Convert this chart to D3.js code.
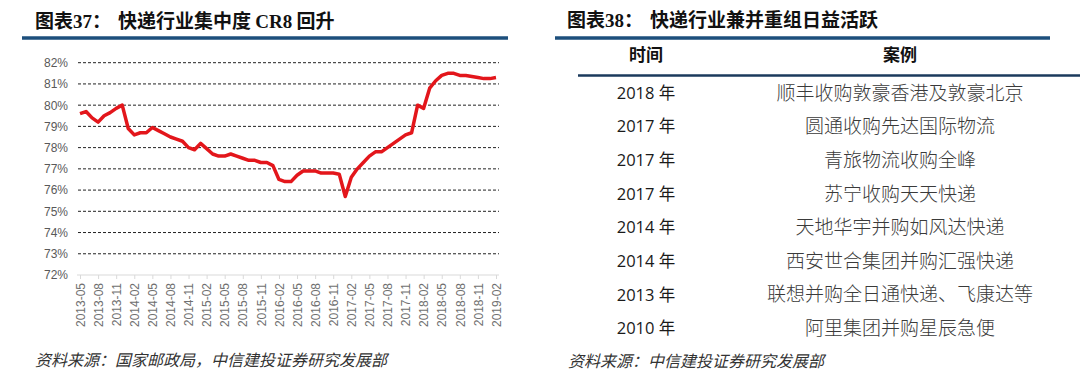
<!DOCTYPE html>
<html>
<head>
<meta charset="utf-8">
<script src="https://cdn.jsdelivr.net/npm/d3@7"></script>
<style>
  body { margin: 0; background: #fff; }
  svg { display: block; }
</style>
</head>
<body>
<svg id="chart" width="1080" height="378"></svg>
<script>
// CR8 monthly values, 2013-05 .. 2019-02
var months_start = '2013-05', months_end = '2019-02';
var cr8 = [79.6, 79.7, 79.4, 79.2, 79.5, 79.65, 79.85, 80.0, 78.9, 78.6,
           78.7, 78.7, 78.95, 78.8, 78.65, 78.5, 78.4, 78.3, 78.0, 77.9,
           78.2, 77.95, 77.7, 77.6, 77.6, 77.7, 77.6, 77.5, 77.4, 77.4,
           77.3, 77.3, 77.15, 76.5, 76.4, 76.4, 76.7, 76.9, 76.9, 76.9,
           76.8, 76.8, 76.8, 76.75, 75.7, 76.6, 77.0, 77.3, 77.6, 77.8,
           77.8, 78.0, 78.2, 78.4, 78.6, 78.7, 80.0, 79.85, 80.8, 81.15,
           81.4, 81.5, 81.5, 81.4, 81.4, 81.35, 81.3, 81.25, 81.25, 81.3];
var xTickLabels = ['2013-05','2013-08','2013-11','2014-02','2014-05','2014-08','2014-11','2015-02',
                   '2015-05','2015-08','2015-11','2016-02','2016-05','2016-08','2016-11','2017-02',
                   '2017-05','2017-08','2017-11','2018-02','2018-05','2018-08','2018-11','2019-02'];
var yTicks = [72, 73, 74, 75, 76, 77, 78, 79, 80, 81, 82];

// table
var tableHeader = ['时间', '案例'];
var years = ['2018 年', '2017 年', '2017 年', '2017 年', '2014 年', '2014 年', '2013 年', '2010 年'];
var cases = ['顺丰收购敦豪香港及敦豪北京', '圆通收购先达国际物流', '青旅物流收购全峰', '苏宁收购天天快递',
             '天地华宇并购如风达快递', '西安世合集团并购汇强快递', '联想并购全日通快递、飞康达等', '阿里集团并购星辰急便'];

var blue = '#1d4f7c';
var cjk = '"Noto Sans CJK SC", "Noto Sans", sans-serif';

var fmt = d3.timeFormat('%Y-%m'), parse = d3.timeParse('%Y-%m');
var months = d3.timeMonth.range(parse(months_start), d3.timeMonth.offset(parse(months_end), 1)).map(fmt);

var svg = d3.select('#chart');

// ---------- left panel ----------
var left = svg.append('g');

var t1 = left.append('text').attr('x', 35).attr('y', 28)
  .attr('font-family', cjk).attr('font-weight', 'bold').attr('font-size', '19px').attr('fill', '#111');
t1.append('tspan').text('图表');
t1.append('tspan').attr('font-family', '"Liberation Serif", serif').text('37');
t1.append('tspan').text('：');
t1.append('tspan').attr('x', 118).text('快递行业集中度 ');
t1.append('tspan').attr('font-family', '"Liberation Serif", serif').text('CR8');
t1.append('tspan').text(' 回升');

left.append('line').attr('x1', 22).attr('x2', 508).attr('y1', 38).attr('y2', 38)
  .attr('stroke', blue).attr('stroke-width', 3.5);

var x = d3.scalePoint().domain(months).range([77, 499]).padding(0.5);
var y = d3.scaleLinear().domain([72, 82]).range([275, 62.7]);

// gridlines
left.append('g').selectAll('line')
  .data(yTicks.filter(function(d) { return d > 72; }))
  .enter().append('line')
    .attr('x1', 78).attr('x2', 499)
    .attr('y1', function(d) { return y(d); })
    .attr('y2', function(d) { return y(d); })
    .attr('stroke', '#222').attr('stroke-width', 1)
    .attr('stroke-dasharray', '3,2');

// y axis labels
var yAxis = left.append('g').attr('transform', 'translate(72,0)')
  .call(d3.axisLeft(y).tickValues(yTicks).tickFormat(function(d) { return d + '%'; }).tickSize(0));
yAxis.select('.domain').remove();
yAxis.selectAll('text').attr('fill', '#595959').attr('font-size', '12px')
  .attr('font-family', '"Liberation Sans", Arial, sans-serif').attr('dx', '-1');

// x axis
var xAxis = left.append('g').attr('transform', 'translate(0,275)')
  .call(d3.axisBottom(x).tickValues(xTickLabels).tickSize(4));
xAxis.select('.domain').attr('stroke', '#d9d9d9').attr('d', 'M77,0H499');
xAxis.selectAll('.tick line').attr('stroke', '#d9d9d9');
xAxis.selectAll('text')
  .attr('fill', '#707070').attr('font-size', '12px')
  .attr('font-family', '"Liberation Sans", Arial, sans-serif')
  .attr('transform', 'rotate(-90)')
  .style('text-anchor', 'end')
  .attr('x', -8).attr('y', 0).attr('dy', '0.35em');

// line
var line = d3.line()
  .x(function(d, i) { return x(months[i]); })
  .y(function(d) { return y(d); });
left.append('path').datum(cr8)
  .attr('d', line)
  .attr('fill', 'none').attr('stroke', '#e3161b').attr('stroke-width', 3.5)
  .attr('stroke-linejoin', 'round');

left.append('text').attr('x', 35).attr('y', 366)
  .attr('font-family', cjk).attr('font-size', '16px').attr('font-style', 'italic')
  .attr('fill', '#333').text('资料来源：国家邮政局，中信建投证券研究发展部');

// ---------- right panel ----------
var right = svg.append('g');

var t2 = right.append('text').attr('x', 567).attr('y', 27)
  .attr('font-family', cjk).attr('font-weight', 'bold').attr('font-size', '19px').attr('fill', '#111');
t2.append('tspan').text('图表');
t2.append('tspan').attr('font-family', '"Liberation Serif", serif').text('38');
t2.append('tspan').text('：');
t2.append('tspan').attr('x', 650).text('快递行业兼并重组日益活跃');

right.append('line').attr('x1', 555).attr('x2', 1050).attr('y1', 38).attr('y2', 38)
  .attr('stroke', blue).attr('stroke-width', 3.5);

var colX = [646, 900];
right.selectAll('.hdr').data(tableHeader).enter().append('text')
  .attr('class', 'hdr')
  .attr('x', function(d, i) { return colX[i]; }).attr('y', 61)
  .attr('text-anchor', 'middle')
  .attr('font-family', cjk).attr('font-weight', 'bold').attr('font-size', '17px').attr('fill', '#111')
  .text(function(d) { return d; });

right.append('line').attr('x1', 578).attr('x2', 1080).attr('y1', 75.5).attr('y2', 75.5)
  .attr('stroke', '#1b3a5c').attr('stroke-width', 2.5);

var row = d3.scaleBand().domain(d3.range(years.length)).range([76, 345]);

right.selectAll('.yr').data(years).enter().append('text')
  .attr('class', 'yr')
  .attr('x', colX[0]).attr('y', function(d, i) { return row(i) + row.bandwidth() / 2; })
  .attr('dy', '0.36em').attr('text-anchor', 'middle')
  .attr('font-family', '"Open Sans", "Noto Sans CJK SC", sans-serif').attr('font-size', '16.5px').attr('fill', '#1a1a1a')
  .text(function(d) { return d; });

right.selectAll('.case').data(cases).enter().append('text')
  .attr('class', 'case')
  .attr('x', colX[1]).attr('y', function(d, i) { return row(i) + row.bandwidth() / 2; })
  .attr('dy', '0.36em').attr('text-anchor', 'middle')
  .attr('font-family', cjk).attr('font-weight', 300).attr('font-size', '19px').attr('fill', '#3a3a3a')
  .text(function(d) { return d; });

right.append('text').attr('x', 568).attr('y', 367)
  .attr('font-family', cjk).attr('font-size', '16px').attr('font-style', 'italic')
  .attr('fill', '#333').text('资料来源：中信建投证券研究发展部');
</script>
</body>
</html>
